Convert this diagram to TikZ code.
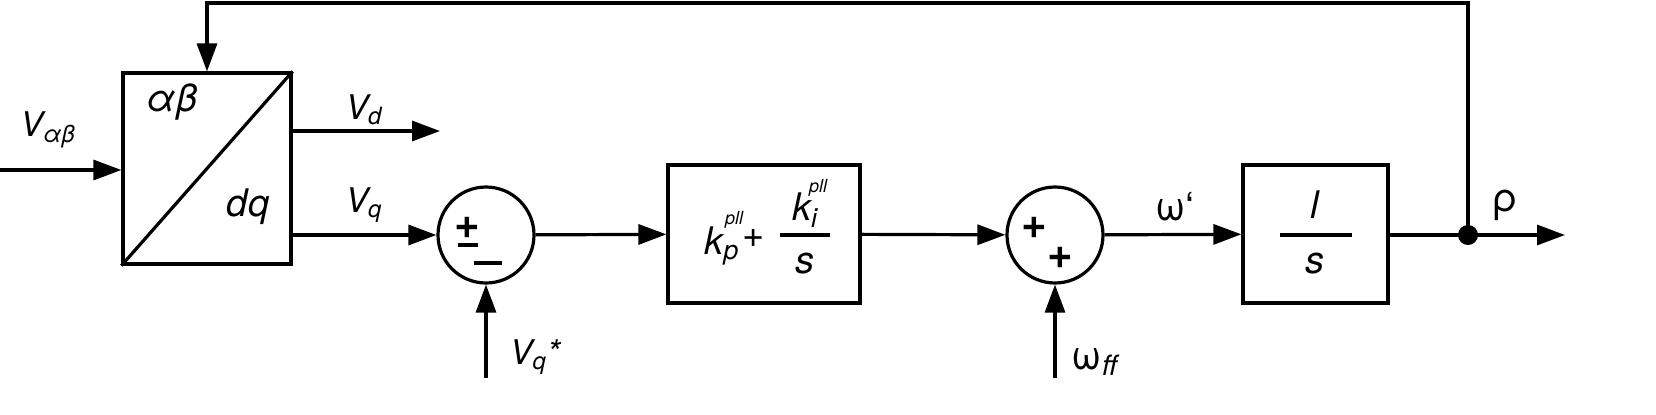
\documentclass[tikz,border=0pt]{standalone}
\usepackage{fontspec}
\setmainfont{TeX Gyre Heros}
\usetikzlibrary{arrows.meta}
\begin{document}
\begin{tikzpicture}[x=0.5pt,y=-0.5pt,line width=1.6pt,
  blk/.style={draw,rectangle,inner sep=0pt},
  sumc/.style={draw,circle,minimum size=48pt,inner sep=0pt},
  ar/.style={-{Triangle[length=14pt,width=10pt]}},
  lbl/.style={font=\fontsize{17}{19}\selectfont\itshape},
  big/.style={font=\fontsize{19}{21}\selectfont\itshape},
  sup/.style={font=\fontsize{9}{10}\selectfont\itshape},
  pls/.style={font=\fontsize{22}{24}\selectfont\bfseries}]
\node[blk,minimum width=84pt,minimum height=95.5pt] (T) at (207,168.5) {};
\draw (T.south west) -- (T.north east);
\node[font=\fontsize{19}{21}\selectfont\itshape] (ab) at (172,102) {αβ};
\node[font=\fontsize{19}{21}\selectfont\itshape] (dq) at (248,207) {dq};
\coordinate (in) at (0,170);
\draw[ar] (in) -- (T.west |- in);
\node[lbl] (lab1) at (48,130) {V\textsubscript{αβ}};
\coordinate (vdend) at (440,131);
\draw[ar] (T.east |- vdend) -- (vdend);
\node[lbl] (lab2) at (364,110) {V\textsubscript{d}};
\node[sumc] (S1) at (486,235) {};
\draw[ar] (T.east |- S1) -- (S1);
\node[lbl] (lab3) at (364,205) {V\textsubscript{q}};
\node[pls] (p1) at (467,228) {+};
\draw (458,245) -- (478,245);
\draw (474,263) -- (502,263);
\node[blk,minimum width=96pt,minimum height=69pt] (PI) at (764,234) {};
\node[big] (kp) at (722,246) {k\textsubscript{p}};
\node[sup] (kps) at (734,220) {pll};
\node[font=\fontsize{19}{21}\selectfont] (pl) at (754,238) {+};
\node[big] (ki) at (805,210) {k\textsubscript{i}};
\node[sup] (kis) at (818,188) {pll};
\draw (780,235) -- (830,235);
\node[big] (s1) at (805,264) {s};
\draw[ar] (S1) -- (PI);
\node[sumc] (S2) at (1055,235) {};
\draw[ar] (PI) -- (S2);
\node[pls] (p2) at (1034,228) {+};
\node[pls] (p3) at (1060,258) {+};
\node[blk,minimum width=72.5pt,minimum height=69pt] (I) at (1315.5,234) {};
\node[big] (one) at (1315,205) {l};
\draw (1280,235) -- (1352,235);
\node[big] (s2) at (1315,264) {s};
\draw[ar] (S2) -- (I);
\node[font=\fontsize{20}{22}\selectfont] (w1) at (1175,207) {ω`};
\coordinate (J) at (1468,235);
\coordinate (out) at (1565,235);
\draw (I.east |- J) -- (J);
\draw[ar] (J) -- (out);
\fill (J) circle (10);
\node[font=\fontsize{20}{22}\selectfont] (rho) at (1505,205) {ρ};
\coordinate (top1) at (1468,3);
\coordinate (top2) at (207,3);
\draw[ar] (J) -- (top1) -- (top2) -- (T.north);
\coordinate (vqs) at (486,378);
\draw[ar] (vqs) -- (S1);
\node[lbl] (lab4) at (535,357) {V\textsubscript{q}*};
\coordinate (wff) at (1055,378);
\draw[ar] (wff) -- (S2);
\node[font=\fontsize{20}{22}\selectfont] (lab5) at (1095,362) {ω\textsubscript{\itshape ff}};
\pgfresetboundingbox
\useasboundingbox (0,0) rectangle (1656,414);
\end{tikzpicture}
\end{document}
